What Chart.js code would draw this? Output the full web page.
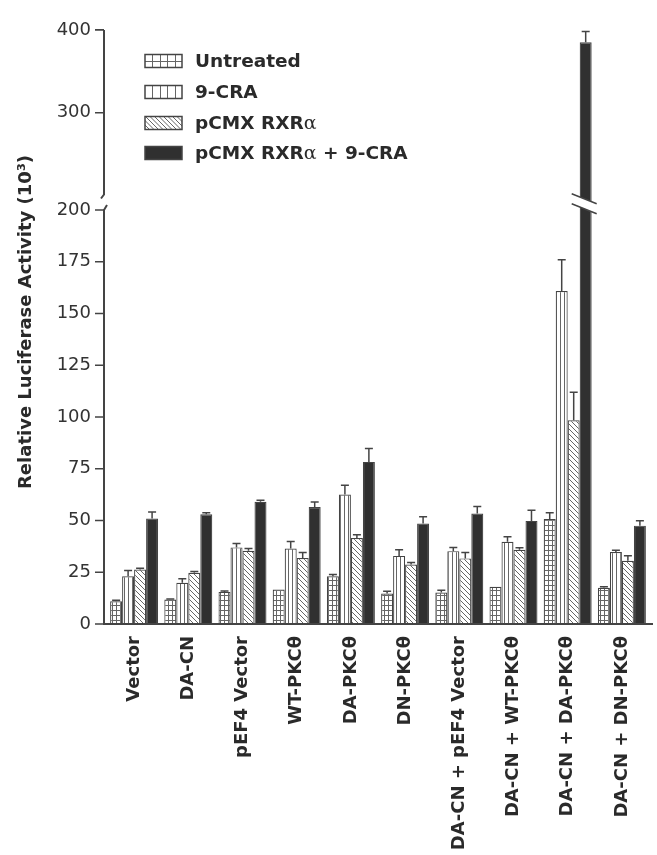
<!DOCTYPE html>
<html>
<head>
<meta charset="utf-8">
<script src="https://cdn.jsdelivr.net/npm/chart.js@4.4.0/dist/chart.umd.min.js"></script>
<style>
  html, body { margin: 0; padding: 0; background: #fff; }
</style>
</head>
<body>
<canvas id="chart" width="657" height="855"></canvas>
<script>
const groups = ["Vector", "DA-CN", "pEF4 Vector", "WT-PKCθ", "DA-PKCθ", "DN-PKCθ",
  "DA-CN + pEF4 Vector", "DA-CN + WT-PKCθ", "DA-CN + DA-PKCθ", "DA-CN + DN-PKCθ"];
const seriesNames = ["Untreated", "9-CRA", "pCMX RXRα", "pCMX RXRα + 9-CRA"];

const untreated    = [11.0, 11.8, 15.5, 16.7, 23.1, 14.7, 15.2, 18.0, 50.7, 17.5];
const untreatedErr = [0.5, 0.3, 0.4, 0.0, 0.8, 1.1, 1.1, 0.0, 3.0, 0.5];
const cra          = [23.1, 19.9, 37.0, 36.5, 62.5, 32.9, 35.2, 39.7, 160.9, 34.8];
const craErr       = [2.7, 2.0, 1.9, 3.4, 4.5, 3.0, 1.8, 2.4, 15.1, 0.8];
const rxr          = [26.3, 24.7, 35.4, 31.9, 41.5, 28.7, 31.7, 35.9, 98.4, 30.5];
const rxrErr       = [0.6, 0.7, 1.1, 2.7, 1.6, 1.0, 2.9, 0.9, 13.6, 2.5];
const rxrCra       = [51.0, 53.0, 59.0, 56.5, 78.3, 48.5, 53.4, 49.8, 385, 47.5];
const rxrCraErr    = [3.1, 0.7, 0.8, 2.4, 6.5, 3.3, 3.4, 5.2, 13, 2.4];

const yTicks = [0, 25, 50, 75, 100, 125, 150, 175, 200, 300, 400];

// broken axis: 0-200 drawn linear, above 200 squeezed after a small gap
const BREAK = 200, GAP = 7, UPPER_K = 0.4;
function toAxis(v) { return v <= BREAK ? v : BREAK + GAP + (v - BREAK) * UPPER_K; }

const INK = "#444";

function makePattern(kind) {
  const c = document.createElement("canvas");
  const g = c.getContext("2d");
  if (kind === "grid") { c.width = 4; c.height = 5; }
  else if (kind === "vert") { c.width = 4; c.height = 4; }
  else { c.width = 5; c.height = 5; }
  g.fillStyle = "#fff";
  g.fillRect(0, 0, c.width, c.height);
  g.strokeStyle = "#666";
  g.lineWidth = 1;
  g.beginPath();
  if (kind === "grid") {
    g.moveTo(0.5, 0); g.lineTo(0.5, 5);
    g.moveTo(0, 0.5); g.lineTo(4, 0.5);
  } else if (kind === "vert") {
    g.moveTo(0.5, 0); g.lineTo(0.5, 4);
  } else {
    g.moveTo(-1, -1); g.lineTo(6, 6);
    g.moveTo(-1, 4); g.lineTo(1, 6);
    g.moveTo(4, -1); g.lineTo(6, 1);
  }
  g.stroke();
  return g.createPattern(c, "repeat");
}

const seriesValues = [untreated, cra, rxr, rxrCra];
const seriesErrors = [untreatedErr, craErr, rxrErr, rxrCraErr];
const fills = [makePattern("grid"), makePattern("vert"), makePattern("diag"), "#303030"];

// error bars, axes with break, legend and y title
const decor = {
  id: "decor",
  afterDatasetsDraw(chart) {
    const ctx = chart.ctx;
    const ys = chart.scales.y;
    const axisX = chart.chartArea.left - 3;
    const y0 = ys.getPixelForValue(0);
    ctx.save();
    ctx.strokeStyle = INK;

    // error bars
    ctx.lineWidth = 1.5;
    seriesValues.forEach((vals, i) => {
      const meta = chart.getDatasetMeta(i);
      vals.forEach((v, j) => {
        const err = seriesErrors[i][j];
        if (!err) return;
        const bar = meta.data[j];
        const yt = ys.getPixelForValue(toAxis(v + err));
        ctx.beginPath();
        ctx.moveTo(bar.x, bar.y);
        ctx.lineTo(bar.x, yt);
        ctx.moveTo(bar.x - 4, yt);
        ctx.lineTo(bar.x + 4, yt);
        ctx.stroke();
      });
    });

    // break on the tall bar
    seriesValues.forEach((vals, i) => {
      const meta = chart.getDatasetMeta(i);
      vals.forEach((v, j) => {
        if (v <= BREAK) return;
        const bar = meta.data[j];
        const L = bar.x - bar.width / 2 - 8, R = bar.x + bar.width / 2 + 5;
        const yc = ys.getPixelForValue(BREAK + GAP / 2) + 1;
        ctx.fillStyle = "#fff";
        ctx.beginPath();
        ctx.moveTo(L, yc - 10); ctx.lineTo(R, yc); ctx.lineTo(R, yc + 10); ctx.lineTo(L, yc);
        ctx.closePath();
        ctx.fill();
        ctx.lineWidth = 1.5;
        ctx.beginPath();
        ctx.moveTo(L, yc - 10); ctx.lineTo(R, yc);
        ctx.moveTo(L, yc); ctx.lineTo(R, yc + 10);
        ctx.stroke();
      });
    });

    // axes
    ctx.lineWidth = 2;
    const yLowTop = ys.getPixelForValue(BREAK);
    const yUpBot = ys.getPixelForValue(BREAK + GAP) - 1;
    const yTop = ys.getPixelForValue(toAxis(400));
    ctx.beginPath();
    ctx.moveTo(axisX, y0); ctx.lineTo(axisX, yLowTop);
    ctx.lineTo(axisX + 3, yLowTop - 5);
    ctx.moveTo(axisX - 3, yUpBot + 4); ctx.lineTo(axisX, yUpBot);
    ctx.lineTo(axisX, yTop);
    ctx.moveTo(axisX - 1, y0); ctx.lineTo(chart.width - 4, y0);
    ctx.stroke();
    ctx.lineWidth = 1.6;
    ctx.beginPath();
    yTicks.forEach(v => {
      const y = ys.getPixelForValue(toAxis(v));
      ctx.moveTo(axisX - 9, y); ctx.lineTo(axisX, y);
    });
    ctx.stroke();

    // legend
    const rows = [61, 92, 123, 153];
    const bx = 145, bw = 37, bh = 13;
    rows.forEach((cy, i) => {
      const top = cy - bh / 2;
      ctx.save();
      ctx.beginPath();
      ctx.rect(bx, top, bw, bh);
      ctx.clip();
      ctx.fillStyle = i === 3 ? "#303030" : "#fff";
      ctx.fillRect(bx, top, bw, bh);
      ctx.strokeStyle = "#666";
      ctx.lineWidth = 1;
      ctx.beginPath();
      if (i === 0 || i === 1) {
        for (let k = 1; k < 5; k++) {
          const x = Math.round(bx + k * bw / 5) + 0.5;
          ctx.moveTo(x, top); ctx.lineTo(x, top + bh);
        }
        if (i === 0) { ctx.moveTo(bx, Math.round(cy) + 0.5); ctx.lineTo(bx + bw, Math.round(cy) + 0.5); }
      } else if (i === 2) {
        for (let x = bx - bh; x < bx + bw; x += 4.5) {
          ctx.moveTo(x, top); ctx.lineTo(x + bh, top + bh);
        }
      }
      ctx.stroke();
      ctx.restore();
      ctx.lineWidth = 1.5;
      ctx.strokeStyle = INK;
      ctx.strokeRect(bx, top, bw, bh);

      ctx.fillStyle = "#2a2a2a";
      ctx.textBaseline = "middle";
      ctx.textAlign = "left";
      let x = 195;
      const parts = seriesNames[i].split("α");
      parts.forEach((p, k) => {
        ctx.font = "bold 18.5px 'DejaVu Sans'";
        ctx.fillText(p, x, cy + 1);
        x += ctx.measureText(p).width;
        if (k < parts.length - 1) {
          ctx.font = "19px 'DejaVu Serif'";
          ctx.fillText("α", x, cy + 1);
          x += ctx.measureText("α").width;
        }
      });
    });

    // y title
    ctx.save();
    ctx.translate(26, 322);
    ctx.rotate(-Math.PI / 2);
    ctx.font = "bold 18px 'DejaVu Sans'";
    ctx.fillStyle = "#2a2a2a";
    ctx.textAlign = "center";
    ctx.textBaseline = "middle";
    ctx.fillText("Relative Luciferase Activity (10³)", 0, 0);
    ctx.restore();

    ctx.restore();
  }
};

new Chart(document.getElementById("chart"), {
  type: "bar",
  data: {
    labels: groups,
    datasets: seriesNames.map((name, i) => ({
      label: name,
      data: seriesValues[i].map(toAxis),
      backgroundColor: fills[i],
      borderColor: INK,
      borderWidth: 1.2,
      categoryPercentage: 0.885,
      barPercentage: 1.0,
    })),
  },
  options: {
    responsive: false,
    animation: false,
    layout: { padding: { top: 21, right: 8, left: 0, bottom: 0 } },
    scales: {
      x: {
        grid: { display: false, drawTicks: false },
        border: { display: false },
        ticks: {
          autoSkip: false,
          maxRotation: 90,
          minRotation: 90,
          padding: 12,
          color: "#2a2a2a",
          font: { family: "DejaVu Sans", size: 18, weight: "bold" },
        },
        afterFit(scale) { scale.height = 231; },
      },
      y: {
        min: 0,
        max: 288.5,
        grid: { display: false, drawTicks: false },
        border: { display: false },
        afterBuildTicks(scale) {
          scale.ticks = yTicks.map(v => ({ value: toAxis(v) }));
        },
        ticks: {
          autoSkip: false,
          padding: 16,
          color: "#333",
          font: { family: "DejaVu Sans", size: 18 },
          callback: (value, index) => yTicks[index],
        },
        afterFit(scale) { scale.width = 107; },
      },
    },
    plugins: {
      legend: { display: false },
      tooltip: { enabled: false },
    },
  },
  plugins: [decor],
});
</script>
</body>
</html>
